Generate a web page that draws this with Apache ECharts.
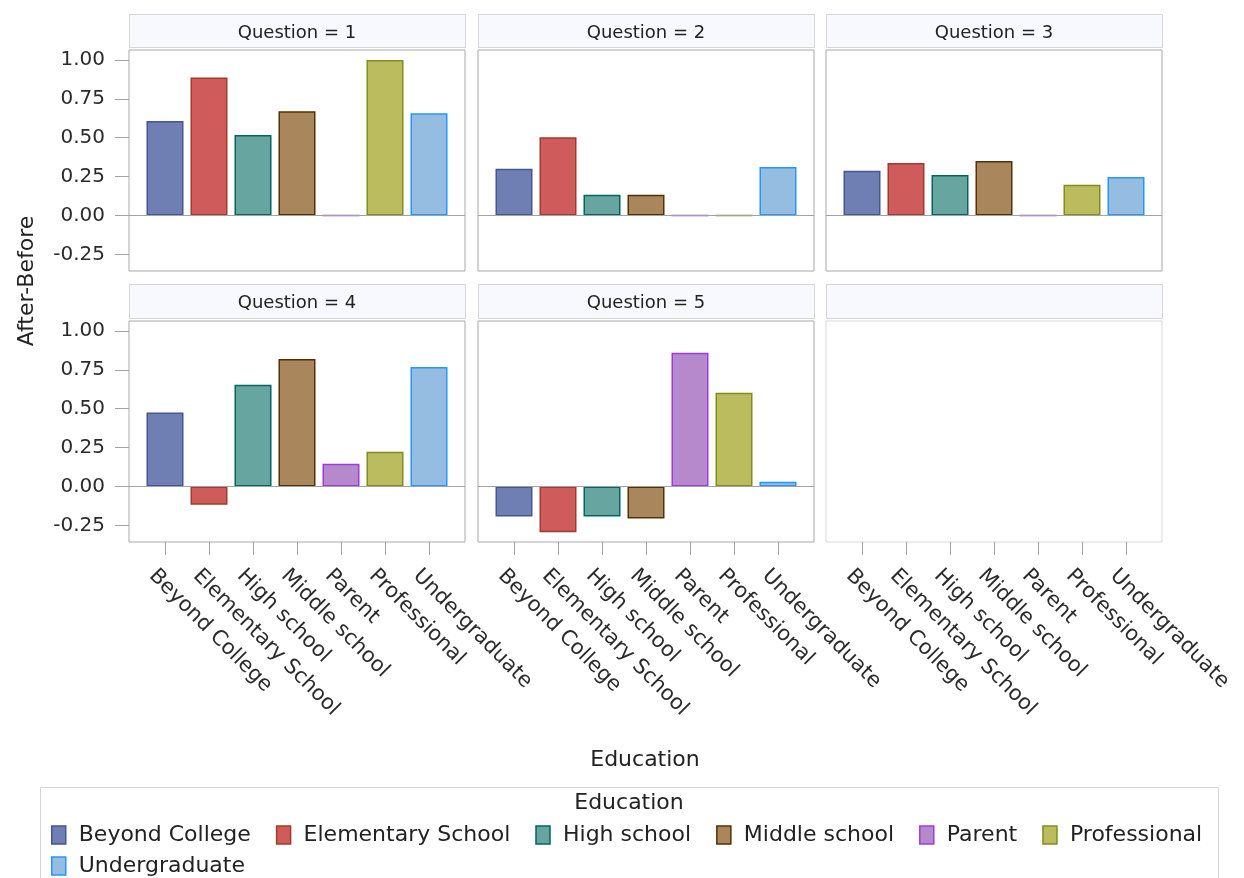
<!DOCTYPE html>
<html>
<head>
<meta charset="utf-8">
<title>After-Before by Education</title>
<script src="https://cdn.jsdelivr.net/npm/echarts@6/dist/echarts.min.js"></script>
<style>
  html, body { margin: 0; padding: 0; background: #fff; }
  #main { width: 1244px; height: 878px; }
</style>
</head>
<body>
<div id="main"></div>
<script>
// data
var categories = ['Beyond College', 'Elementary School', 'High school', 'Middle school', 'Parent', 'Professional', 'Undergraduate'];
var questions = ['1', '2', '3', '4', '5'];
var q1 = [0.607, 0.887, 0.517, 0.670, 0, 1.0, 0.657];
var q2 = [0.300, 0.503, 0.134, 0.134, 0, 0, 0.312];
var q3 = [0.287, 0.338, 0.261, 0.350, 0, 0.197, 0.248];
var q4 = [0.476, -0.117, 0.654, 0.820, 0.146, 0.223, 0.769];
var q5 = [-0.193, -0.295, -0.193, -0.206, 0.860, 0.603, 0.030];
var yTicks = [-0.25, 0, 0.25, 0.5, 0.75, 1.0];

var fillColors = ['#6F7EB3', '#D05B5B', '#66A5A0', '#A9865B', '#B689CD', '#BABC5D', '#94BDE1'];
var lineColors = ['#445694', '#A23A2E', '#01665E', '#543005', '#9D3CDB', '#7F8E1F', '#2597FA'];

var values = [q1, q2, q3, q4, q5];

// panel layout
var colX = [129, 478, 826];
var panelW = 336;
var pad = 14;        // space between frame and first/last band
var headTop = [14, 284];
var plotTop = [50, 321];
var plotH = 221;
var font = 'DejaVu Sans';
var xPad = pad / ((panelW - 2 * pad) / categories.length); // in category units

var grids = [], xAxes = [], yAxes = [], series = [], graphics = [];

for (var p = 0; p < 6; p++) {
  var r = Math.floor(p / 3), c = p % 3;
  var used = p < questions.length;
  grids.push({
    left: colX[c], top: plotTop[r], width: panelW, height: plotH,
    show: true, borderColor: used ? '#a7a9ab' : '#d9d9d9', borderWidth: 1,
    backgroundColor: '#fff', outerBoundsMode: 'none'
  });
  xAxes.push({
    type: 'value', gridIndex: p,
    min: -0.5 - xPad, max: categories.length - 0.5 + xPad,
    axisLine: { show: false, onZero: false },
    splitLine: { show: false },
    axisTick: { show: false },
    axisLabel: { show: false }
  });
  yAxes.push({
    type: 'value', gridIndex: p,
    min: -0.357, max: 1.064,
    axisLine: { show: false, onZero: false },
    splitLine: { show: false },
    axisTick: { show: c === 0, customValues: yTicks, length: 14, lineStyle: { color: '#a0a3a6' } },
    axisLabel: {
      show: c === 0, customValues: yTicks, margin: 24,
      formatter: function (v) { return v.toFixed(2); },
      fontSize: 20, color: '#2b2b2b', fontFamily: font
    }
  });

  // header strip
  graphics.push({
    type: 'rect', silent: true,
    shape: { x: colX[c] + 0.5, y: headTop[r] + 0.5, width: panelW, height: plotTop[r] - headTop[r] - 3 },
    style: { fill: '#f8f9fe', stroke: '#d6d6d6', lineWidth: 1 }
  });
  if (used) {
    graphics.push({
      type: 'text', silent: true,
      x: colX[c] + panelW / 2, y: headTop[r] + (plotTop[r] - headTop[r]) / 2 + 1,
      style: { text: 'Question = ' + questions[p], fill: '#222', font: '18px "' + font + '"', textAlign: 'center', textVerticalAlign: 'middle' }
    });
    for (var k = 0; k < categories.length; k++) {
      var s = {
        name: categories[k], type: 'bar',
        xAxisIndex: p, yAxisIndex: p,
        barWidth: 37, barGap: '-100%',
        data: [[k, values[p][k]]],
        itemStyle: { color: fillColors[k], borderColor: lineColors[k], borderWidth: 1.5 }
      };
      if (k === 0) {
        s.markLine = {
          silent: true, symbol: 'none', label: { show: false },
          lineStyle: { color: '#a0a3a6', type: 'solid', width: 1 },
          data: [{ yAxis: 0 }]
        };
      }
      series.push(s);
    }
  }
}

// category axes under the bottom row (inner band area of each panel)
for (var cc = 0; cc < 3; cc++) {
  var gi = grids.length;
  grids.push({
    left: colX[cc] + pad, top: plotTop[1], width: panelW - 2 * pad, height: plotH,
    show: false, outerBoundsMode: 'none'
  });
  xAxes.push({
    type: 'category', gridIndex: gi, data: categories, position: 'bottom',
    axisLine: { show: false, onZero: false },
    axisTick: { show: true, alignWithLabel: true, interval: 0, length: 13, lineStyle: { color: '#a0a3a6' } },
    axisLabel: {
      interval: 0, rotate: -45,
      align: 'left', verticalAlign: 'top', lineHeight: 36, margin: 18,
      fontSize: 21, color: '#2b2b2b', fontFamily: font
    }
  });
  yAxes.push({
    type: 'value', gridIndex: gi, min: -0.357, max: 1.064, show: false
  });
}

// axis titles and legend frame
graphics.push({
  type: 'text', silent: true, x: 27, y: 281, rotation: Math.PI / 2,
  style: { text: 'After-Before', fill: '#222', font: '22px "' + font + '"', textAlign: 'center', textVerticalAlign: 'middle' }
});
graphics.push({
  type: 'text', silent: true, x: 645, y: 760,
  style: { text: 'Education', fill: '#222', font: '22px "' + font + '"', textAlign: 'center', textVerticalAlign: 'middle' }
});
graphics.push({
  type: 'rect', silent: true,
  shape: { x: 40.5, y: 787.5, width: 1178, height: 110 },
  style: { fill: 'none', stroke: '#d6d6d6', lineWidth: 1 }
});
graphics.push({
  type: 'text', silent: true, x: 629, y: 803,
  style: { text: 'Education', fill: '#222', font: '22px "' + font + '"', textAlign: 'center', textVerticalAlign: 'middle' }
});

function legendData(names) {
  return names.map(function (name) {
    var i = categories.indexOf(name);
    return { name: name, itemStyle: { color: fillColors[i], borderColor: lineColors[i], borderWidth: 1.5 } };
  });
}
var legendBase = {
  left: 46, icon: 'rect', itemWidth: 14, itemHeight: 18, itemGap: 25,
  selectedMode: false,
  textStyle: { fontSize: 22, color: '#222', fontFamily: font, padding: [0, 0, 0, 8] }
};

var myChart = echarts.init(document.getElementById('main'));
var option = {
  animation: false,
  backgroundColor: '#fff',
  grid: grids,
  xAxis: xAxes,
  yAxis: yAxes,
  legend: [
    Object.assign({}, legendBase, { top: 819, data: legendData(categories.slice(0, 6)) }),
    Object.assign({}, legendBase, { top: 850, data: legendData(categories.slice(6)) })
  ],
  graphic: graphics,
  series: series
};
myChart.setOption(option);
</script>
</body>
</html>
